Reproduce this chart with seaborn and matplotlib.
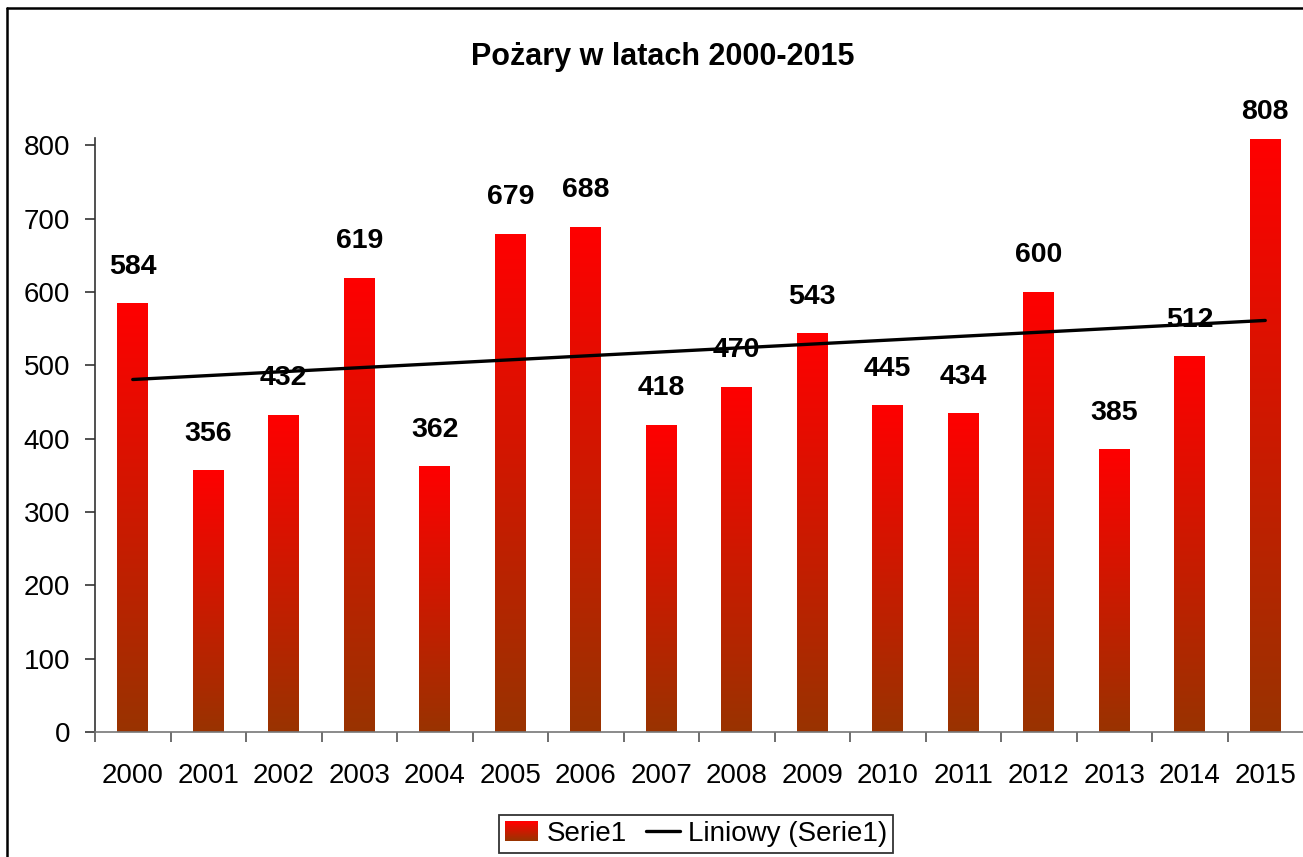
import matplotlib
matplotlib.use("Agg")
import matplotlib.pyplot as plt
import numpy as np
import pandas as pd
import seaborn as sns
from matplotlib.colors import LinearSegmentedColormap
from matplotlib.legend_handler import HandlerBase
from matplotlib.lines import Line2D
from matplotlib.patches import Rectangle

# Data
years = ["2000", "2001", "2002", "2003", "2004", "2005", "2006", "2007",
         "2008", "2009", "2010", "2011", "2012", "2013", "2014", "2015"]
fires = [584, 356, 432, 619, 362, 679, 688, 418, 470, 543, 445, 434, 600, 385, 512, 808]
title = "Pożary w latach 2000-2015"
series_name = "Serie1"
trend_name = "Liniowy (Serie1)"

df = pd.DataFrame({"year": years, "value": fires})

sns.set_style("white")
plt.rcParams["font.family"] = ["Liberation Sans", "DejaVu Sans"]
plt.rcParams["text.color"] = "black"
plt.rcParams["xtick.labelcolor"] = "black"
plt.rcParams["ytick.labelcolor"] = "black"

# bar gradient: dark brown at the bottom, pure red at the top
grad_cmap = LinearSegmentedColormap.from_list("fire", ["#993300", "#FF0000"])
grad = np.linspace(0, 1, 256).reshape(-1, 1)

fig = plt.figure(figsize=(13.03, 8.57), dpi=100)
ax = fig.add_axes([95 / 1303, 1 - 732 / 857, 1 - 95 / 1303, (732 - 138) / 857])

sns.barplot(data=df, x="year", y="value", color="#FF0000", width=0.41,
            errorbar=None, ax=ax, zorder=2)

# swap flat bars for gradient images
for p in ax.patches:
    x0, w, h = p.get_x(), p.get_width(), p.get_height()
    ax.imshow(grad, extent=[x0, x0 + w, 0, h], origin="lower", cmap=grad_cmap,
              aspect="auto", zorder=2, interpolation="bilinear")
    p.set_visible(False)

ax.set_xlim(-0.5, len(years) - 0.5)
ax.set_ylim(0, 810)

# value labels (kept inside the chart area, like the tallest one)
for i, v in enumerate(fires):
    top_px = ax.transData.transform((i, v))[1]
    off = min(24, 732 - top_px)
    ax.annotate(str(v), (i, v), xytext=(0, off), textcoords="offset pixels",
                ha="center", va="bottom", fontsize=20.5, fontweight="bold",
                color="black", zorder=3)

# linear trend line
pos = np.arange(len(fires))
k, b = np.polyfit(pos, fires, 1)
sns.lineplot(x=pos, y=k * pos + b, color="black", linewidth=2.4, ax=ax, zorder=4)

ax.set_xlim(-0.5, len(years) - 0.5)
ax.set_ylim(0, 810)
ax.set_yticks(range(0, 801, 100))
ax.set_xlabel("")
ax.set_ylabel("")

for s in ["top", "right"]:
    ax.spines[s].set_visible(False)
ax.spines["left"].set_color("#333333")
ax.spines["bottom"].set_color("#777777")
ax.spines["left"].set_linewidth(1.2)
ax.spines["bottom"].set_linewidth(1.2)

ax.set_xticks(pos)
ax.set_xticklabels(years)
ax.set_xticks(np.arange(-0.5, len(years) - 1, 1), minor=True)
ax.tick_params(axis="x", which="major", length=0, pad=22, labelsize=20)
ax.tick_params(axis="x", which="minor", length=7, width=1.2, color="#555555",
               direction="out", bottom=True)
ax.tick_params(axis="y", length=7, width=1.2, color="#333333", direction="out",
               left=True, pad=11, labelsize=20)

fig.text(663 / 1303, 1 - 57 / 857, title, ha="center", va="center",
         fontsize=22, fontweight="bold", color="black")


# legend swatch with the same gradient
class GradientHandler(HandlerBase):
    def create_artists(self, legend, orig, xd, yd, width, height, fontsize, trans):
        n = 20
        arts = []
        for j in range(n):
            r = Rectangle((-xd, -yd + height * j / n), width, height / n + 0.3,
                          facecolor=grad_cmap(j / (n - 1)), edgecolor="none",
                          transform=trans)
            arts.append(r)
        return arts


swatch = Rectangle((0, 0), 1, 1)
trend_handle = Line2D([], [], color="black", linewidth=2.4)
leg = fig.legend([swatch, trend_handle], [series_name, trend_name],
                 handler_map={Rectangle: GradientHandler()},
                 loc="center", bbox_to_anchor=(696 / 1303, 1 - 834 / 857), ncol=2,
                 fontsize=20, frameon=True, fancybox=False, handlelength=1.2,
                 handleheight=0.7, handletextpad=0.3, columnspacing=0.7,
                 borderpad=0.2, borderaxespad=0)
leg.get_frame().set_edgecolor("black")
leg.get_frame().set_linewidth(1.3)
for t in leg.get_texts():
    t.set_color("black")

# outer chart border (top and left edges visible)
fig.add_artist(Line2D([7 / 1303, 1], [1 - 8 / 857, 1 - 8 / 857],
                      transform=fig.transFigure, color="black", linewidth=1.8))
fig.add_artist(Line2D([7 / 1303, 7 / 1303], [0, 1 - 8 / 857],
                      transform=fig.transFigure, color="black", linewidth=1.8))

fig.savefig("out.png", dpi=100)
